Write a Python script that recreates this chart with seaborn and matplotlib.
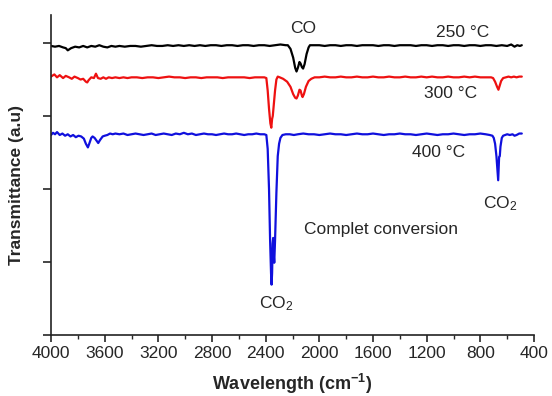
import matplotlib
matplotlib.use("Agg")
import matplotlib.pyplot as plt
import seaborn as sns
import pandas as pd
from matplotlib.ticker import MultipleLocator

# ---------------- data ----------------
wn_250 = [4000, 3970, 3940, 3910, 3890, 3875, 3850, 3820, 3790, 3760, 3730, 3700, 3670, 3640,
          3610, 3580, 3550, 3520, 3490, 3450, 3410, 3370, 3330, 3290, 3250, 3210, 3170, 3130,
          3090, 3050, 3010, 2970, 2930, 2890, 2850, 2810, 2770, 2730, 2690, 2650, 2610, 2570,
          2530, 2490, 2450, 2410, 2370, 2330, 2290, 2250, 2235, 2215, 2195, 2180, 2170, 2160,
          2148, 2140, 2130, 2121, 2110, 2095, 2080, 2070, 2040, 2000, 1960, 1920, 1880, 1840,
          1800, 1760, 1720, 1680, 1640, 1600, 1560, 1520, 1480, 1440, 1400, 1360, 1320, 1280,
          1240, 1200, 1160, 1120, 1080, 1040, 1000, 960, 920, 880, 840, 800, 760, 720, 680,
          640, 600, 570, 545, 525, 505, 491]
tr_250 = [3.96, 3.95, 3.96, 3.94, 3.93, 3.90, 3.93, 3.95, 3.94, 3.96, 3.94, 3.96, 3.95, 3.97,
          3.95, 3.94, 3.96, 3.95, 3.96, 3.95, 3.96, 3.96, 3.95, 3.96, 3.97, 3.96, 3.96, 3.97,
          3.96, 3.97, 3.96, 3.97, 3.96, 3.97, 3.96, 3.97, 3.97, 3.96, 3.97, 3.97, 3.96, 3.97,
          3.97, 3.96, 3.97, 3.97, 3.96, 3.97, 3.98, 3.97, 3.97, 3.92, 3.80, 3.66, 3.61, 3.66,
          3.74, 3.72, 3.67, 3.65, 3.71, 3.85, 3.94, 3.97, 3.97, 3.97, 3.96, 3.97, 3.97, 3.96,
          3.97, 3.97, 3.96, 3.97, 3.97, 3.97, 3.96, 3.97, 3.97, 3.96, 3.97, 3.97, 3.97, 3.96,
          3.97, 3.97, 3.96, 3.97, 3.97, 3.96, 3.97, 3.97, 3.96, 3.97, 3.97, 3.96, 3.97, 3.97,
          3.96, 3.97, 3.96, 3.98, 3.95, 3.97, 3.96, 3.97]

wn_300 = [4000, 3975, 3955, 3935, 3910, 3890, 3865, 3845, 3825, 3800, 3780, 3760, 3740, 3730,
          3720, 3700, 3680, 3665, 3650, 3630, 3610, 3590, 3570, 3545, 3520, 3490, 3460, 3430,
          3400, 3360, 3320, 3280, 3240, 3200, 3160, 3120, 3080, 3040, 3000, 2960, 2920, 2880,
          2840, 2800, 2760, 2720, 2680, 2640, 2600, 2560, 2520, 2480, 2440, 2410, 2395, 2385,
          2375, 2365, 2358, 2352, 2347, 2340, 2330, 2320, 2310, 2295, 2270, 2240, 2215, 2195,
          2180, 2170, 2160, 2148, 2140, 2130, 2125, 2115, 2100, 2080, 2060, 2035, 2000, 1960,
          1920, 1880, 1840, 1800, 1760, 1720, 1680, 1640, 1600, 1560, 1520, 1480, 1440, 1400,
          1360, 1320, 1280, 1240, 1200, 1160, 1120, 1080, 1040, 1000, 960, 920, 880, 840, 800,
          760, 720, 705, 690, 675, 665, 655, 645, 630, 610, 590, 570, 550, 530, 510, 491]
tr_300 = [3.54, 3.57, 3.53, 3.56, 3.52, 3.55, 3.53, 3.51, 3.54, 3.52, 3.50, 3.51, 3.47, 3.46,
          3.49, 3.53, 3.52, 3.58, 3.52, 3.51, 3.53, 3.51, 3.53, 3.52, 3.53, 3.52, 3.53, 3.52,
          3.53, 3.53, 3.52, 3.53, 3.53, 3.52, 3.53, 3.54, 3.53, 3.53, 3.52, 3.53, 3.53, 3.52,
          3.53, 3.53, 3.53, 3.52, 3.53, 3.53, 3.53, 3.53, 3.52, 3.53, 3.53, 3.53, 3.52, 3.35,
          3.10, 2.90, 2.84, 2.96, 3.00, 3.15, 3.35, 3.50, 3.54, 3.53, 3.51, 3.47, 3.40, 3.30,
          3.25, 3.24, 3.28, 3.36, 3.35, 3.28, 3.26, 3.30, 3.40, 3.48, 3.51, 3.53, 3.53, 3.54,
          3.53, 3.53, 3.54, 3.53, 3.53, 3.54, 3.53, 3.53, 3.54, 3.53, 3.53, 3.54, 3.53, 3.53,
          3.54, 3.53, 3.53, 3.54, 3.53, 3.54, 3.53, 3.53, 3.54, 3.53, 3.53, 3.54, 3.53, 3.54, 3.53,
          3.53, 3.53, 3.52, 3.47, 3.40, 3.36, 3.42, 3.48, 3.52, 3.53, 3.54, 3.53, 3.54, 3.53,
          3.54, 3.54]

wn_400 = [4000, 3985, 3970, 3955, 3935, 3915, 3895, 3875, 3855, 3835, 3815, 3795, 3775, 3755,
          3740, 3725, 3715, 3700, 3690, 3675, 3660, 3648, 3635, 3615, 3600, 3580, 3560, 3540,
          3520, 3490, 3460, 3430, 3400, 3370, 3340, 3310, 3280, 3250, 3220, 3190, 3160, 3130,
          3100, 3070, 3040, 3010, 2980, 2950, 2920, 2890, 2860, 2830, 2800, 2770, 2740, 2710,
          2680, 2650, 2620, 2590, 2560, 2530, 2500, 2470, 2440, 2410, 2395, 2385, 2375, 2367,
          2360, 2356, 2352, 2348, 2344, 2340, 2336, 2330, 2320, 2310, 2300, 2290, 2275, 2250,
          2220, 2190, 2160, 2120, 2080, 2040, 2000, 1960, 1920, 1880, 1840, 1800, 1760, 1720,
          1680, 1640, 1600, 1560, 1520, 1480, 1440, 1400, 1360, 1320, 1280, 1240, 1200, 1160,
          1120, 1080, 1040, 1000, 960, 920, 880, 840, 800, 760, 730, 710, 700, 690, 680, 672,
          667, 663, 660, 655, 650, 640, 630, 615, 600, 580, 560, 545, 530, 510, 491]
tr_400 = [2.74, 2.77, 2.75, 2.78, 2.74, 2.76, 2.73, 2.75, 2.72, 2.74, 2.71, 2.73, 2.72, 2.69,
          2.62, 2.57, 2.62, 2.70, 2.72, 2.70, 2.66, 2.63, 2.67, 2.72, 2.73, 2.74, 2.76, 2.75,
          2.76, 2.75, 2.76, 2.74, 2.75, 2.76, 2.75, 2.74, 2.75, 2.76, 2.74, 2.75, 2.76, 2.75,
          2.74, 2.76, 2.75, 2.77, 2.75, 2.76, 2.74, 2.75, 2.76, 2.75, 2.75, 2.74, 2.75, 2.76,
          2.75, 2.75, 2.76, 2.75, 2.74, 2.75, 2.75, 2.76, 2.75, 2.75, 2.74, 2.55, 2.00, 1.30,
          0.85, 0.69, 0.85, 1.25, 1.33, 1.10, 0.99, 1.30, 1.95, 2.45, 2.62, 2.70, 2.74, 2.75,
          2.75, 2.74, 2.75, 2.76, 2.75, 2.75, 2.74, 2.75, 2.76, 2.75, 2.75, 2.74, 2.75, 2.76,
          2.75, 2.75, 2.76, 2.75, 2.74, 2.75, 2.75, 2.76, 2.75, 2.75, 2.74, 2.75, 2.76, 2.75,
          2.74, 2.75, 2.75, 2.76, 2.75, 2.74, 2.75, 2.75, 2.76, 2.75, 2.74, 2.73, 2.70,
          2.62, 2.45, 2.25, 2.12, 2.30, 2.44, 2.45, 2.58, 2.70, 2.73, 2.74, 2.75, 2.74, 2.75,
          2.73, 2.74, 2.76, 2.76]

series_names = ["250 °C", "300 °C", "400 °C"]
series_colors = ["#000000", "#ee1111", "#1010dd"]
x_major_ticks = [4000, 3600, 3200, 2800, 2400, 2000, 1600, 1200, 800, 400]
y_ticks = [0, 1, 2, 3, 4]

# ---------------- figure ----------------
sns.set_style("ticks")
plt.rcParams["font.family"] = ["Liberation Sans", "DejaVu Sans"]
plt.rcParams["mathtext.fontset"] = "custom"
plt.rcParams["mathtext.rm"] = "Liberation Sans"
plt.rcParams["mathtext.it"] = "Liberation Sans:italic"
plt.rcParams["mathtext.bf"] = "Liberation Sans:bold"

df = pd.concat([
    pd.DataFrame({"wn": wn_250, "tr": tr_250, "T": series_names[0]}),
    pd.DataFrame({"wn": wn_300, "tr": tr_300, "T": series_names[1]}),
    pd.DataFrame({"wn": wn_400, "tr": tr_400, "T": series_names[2]}),
])

fig = plt.figure(figsize=(5.52, 3.96), dpi=100)
ax = fig.add_axes([51 / 552, 1 - 335 / 396, (534 - 51) / 552, (335 - 15) / 396])

sns.lineplot(data=df, x="wn", y="tr", hue="T", palette=dict(zip(series_names, series_colors)),
             estimator=None, sort=False, linewidth=1.6, legend=False, ax=ax)

ax.set_xlim(4000, 400)
ax.set_ylim(0, 4.384)
ax.set_xticks(x_major_ticks)
ax.xaxis.set_minor_locator(MultipleLocator(200))
ax.set_yticks(y_ticks)
ax.set_yticklabels([])
ax.tick_params(axis="x", which="major", direction="out", length=5, width=1.2, labelsize=12.5, pad=3)
ax.tick_params(axis="x", which="minor", direction="out", length=3, width=1.0)
ax.tick_params(axis="y", which="major", direction="out", length=6, width=1.2)
for s in ["top", "right"]:
    ax.spines[s].set_visible(False)
for s in ["left", "bottom"]:
    ax.spines[s].set_linewidth(1.2)
    ax.spines[s].set_color("#222222")

ax.set_xlabel(r"Wavelength (cm$^{\mathbf{-1}}$)", fontsize=13, fontweight="bold")
ax.xaxis.set_label_coords(0.5, -0.115)
ax.set_ylabel("Transmittance (a.u)", fontsize=12.5, fontweight="bold")
ax.yaxis.set_label_coords(-0.055, 0.47)

fs = 12.5
ax.text(2123, 4.205, "CO", fontsize=fs, ha="center", va="center")
ax.text(931, 4.15, series_names[0], fontsize=fs, ha="center", va="center")
ax.text(1020, 3.315, series_names[1], fontsize=fs, ha="center", va="center")
ax.text(1110, 2.507, series_names[2], fontsize=fs, ha="center", va="center")
ax.text(650, 1.80, r"CO$_2$", fontsize=fs, ha="center", va="center")
ax.text(1542, 1.45, "Complet conversion", fontsize=fs, ha="center", va="center")
ax.text(2318, 0.43, r"CO$_2$", fontsize=fs, ha="center", va="center")

fig.savefig("out.png", dpi=100)
